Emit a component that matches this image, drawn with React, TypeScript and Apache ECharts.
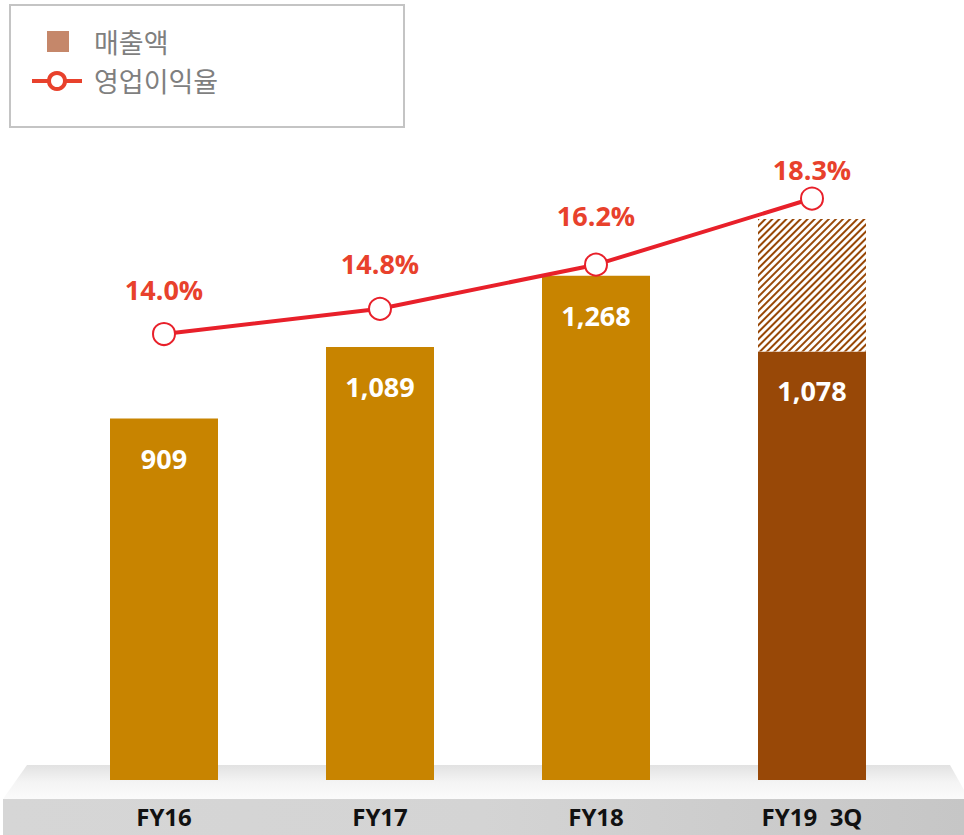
import React, { useEffect, useRef } from "react";
import * as echarts from "echarts";

const categories = ["FY16", "FY17", "FY18", "FY19  3Q"];
const salesValues = [909, 1089, 1268, 1078];
const salesLabels = ["909", "1,089", "1,268", "1,078"];
const forecastExtra = [null, null, null, 333];
const marginValues = [14.0, 14.8, 16.2, 18.3];
const marginLabelGaps = [19, 20, 24, 4];
const legendNames = ["매출액", "영업이익율"];

const FONT = "'Open Sans', 'Noto Sans CJK KR', sans-serif";
const BAR = "#C88400";
const BAR_DARK = "#984807";
const RED = "#E8412C";
const LINE_RED = "#E8202A";

export default function App() {
  const ref = useRef<HTMLDivElement>(null);
  useEffect(() => {
    if (!ref.current) return;
    const chart = echarts.init(ref.current, undefined, { renderer: "svg" });
    const option: any = {
      animation: false,
      backgroundColor: "#ffffff",
      grid: { left: 56, right: 44, top: 150, bottom: 55, containLabel: false },
      xAxis: {
        type: "category",
        data: categories,
        axisLine: { show: false },
        axisTick: { show: false },
        axisLabel: {
          margin: 24,
          fontFamily: FONT,
          fontWeight: "bold",
          fontSize: 24,
          color: "#111111",
        },
        z: 10,
      },
      yAxis: [
        { type: "value", min: 0, max: 1584.5, show: false, splitLine: { show: false } },
        { type: "value", min: -0.155, max: 19.84, show: false, splitLine: { show: false } },
      ],
      graphic: [
        {
          type: "polygon",
          z: -10,
          silent: true,
          shape: { points: [[27, 765], [950, 765], [964, 790], [964, 799], [3, 799]] },
          style: {
            fill: new echarts.graphic.LinearGradient(0, 0, 0, 1, [
              { offset: 0, color: "#e2e2e2" },
              { offset: 0.5, color: "#f4f4f4" },
              { offset: 1, color: "#fbfbfb" },
            ]),
          },
        },
        {
          type: "rect",
          z: -10,
          silent: true,
          shape: { x: 3, y: 799, width: 961, height: 36 },
          style: {
            fill: new echarts.graphic.LinearGradient(0, 0, 1, 0, [
              { offset: 0, color: "#d6d6d6" },
              { offset: 0.5, color: "#d4d4d4" },
              { offset: 1, color: "#c6c6c6" },
            ]),
          },
        },
        {
          type: "rect",
          shape: { x: 10, y: 5, width: 394, height: 122 },
          style: { fill: "#ffffff", stroke: "#c4c4c4", lineWidth: 2 },
        },
        {
          type: "rect",
          shape: { x: 47, y: 31, width: 22, height: 21 },
          style: { fill: "#C5876A" },
        },
        {
          type: "text",
          x: 94,
          y: 42,
          style: {
            text: legendNames[0],
            fontFamily: FONT,
            fontSize: 27,
            fill: "#7f7f7f",
            verticalAlign: "middle",
          },
        },
        {
          type: "line",
          shape: { x1: 32, y1: 81, x2: 82, y2: 81 },
          style: { stroke: RED, lineWidth: 4 },
        },
        {
          type: "circle",
          shape: { cx: 57, cy: 81, r: 8 },
          style: { fill: "#ffffff", stroke: RED, lineWidth: 4 },
        },
        {
          type: "text",
          x: 94,
          y: 81,
          style: {
            text: legendNames[1],
            fontFamily: FONT,
            fontSize: 27,
            fill: "#7f7f7f",
            verticalAlign: "middle",
          },
        },
      ],
      series: [
        {
          name: legendNames[0],
          type: "bar",
          stack: "sales",
          barWidth: 108,
          yAxisIndex: 0,
          data: salesValues.map((v, i) => ({
            value: v,
            itemStyle: { color: i === 3 ? BAR_DARK : BAR },
          })),
          label: {
            show: true,
            position: "insideTop",
            distance: 26,
            formatter: (p: any) => salesLabels[p.dataIndex],
            fontFamily: FONT,
            fontWeight: "bold",
            fontSize: 27,
            color: "#ffffff",
          },
          z: 2,
        },
        {
          name: "forecast",
          type: "bar",
          stack: "sales",
          barWidth: 108,
          yAxisIndex: 0,
          data: forecastExtra.map((v) => (v == null ? "-" : v)),
          itemStyle: {
            color: "#ffffff",
            decal: {
              symbol: "rect",
              symbolSize: 1,
              rotation: -Math.PI / 4,
              dashArrayX: [[1, 0]],
              dashArrayY: [2, 2.4],
              color: BAR_DARK,
            },
          },
          z: 2,
        },
        {
          name: legendNames[1],
          type: "line",
          yAxisIndex: 1,
          data: marginValues.map((v, i) => ({
            value: v,
            label: { distance: marginLabelGaps[i] },
          })),
          symbol: "circle",
          symbolSize: 22,
          lineStyle: { color: LINE_RED, width: 4 },
          itemStyle: { color: "#ffffff", borderColor: LINE_RED, borderWidth: 2 },
          label: {
            show: true,
            position: "top",
            formatter: (p: any) => p.value.toFixed(1) + "%",
            fontFamily: FONT,
            fontWeight: "bold",
            fontSize: 27,
            color: RED,
          },
          z: 5,
        },
      ],
    };
    chart.setOption(option);
    return () => chart.dispose();
  }, []);
  return (
    <div
      ref={ref}
      style={{ position: "fixed", left: 0, top: 0, width: 964, height: 835 }}
    />
  );
}
